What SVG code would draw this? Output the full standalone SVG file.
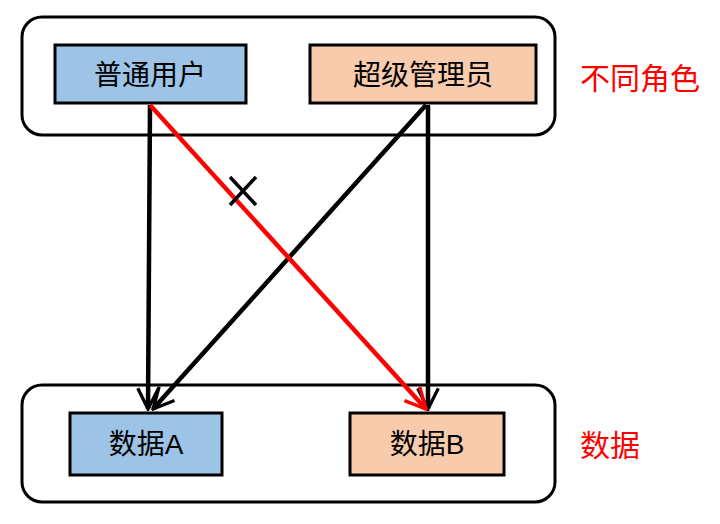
<svg xmlns="http://www.w3.org/2000/svg" width="720" height="524" viewBox="0 0 720 524">
<style>
.c{fill:#fff;stroke:#000;stroke-width:3}
.b{stroke:#000;stroke-width:3}
.blue{fill:#9dc3e6}.or{fill:#f8cbad}
text{font-family:"Liberation Sans","Noto Sans CJK SC",sans-serif;font-size:28px;text-anchor:middle;dominant-baseline:central}
.r{fill:#ff0000;text-anchor:start;font-size:30px}
.l{fill:none;stroke-width:4.5}
</style>
<defs>
<marker id="ak" viewBox="0 0 12 12" refX="11" refY="6" markerWidth="5.5" markerHeight="5.5" orient="auto" markerUnits="strokeWidth"><path d="M1,1 L11,6 L1,11" fill="none" stroke="#000" stroke-width="1.6"/></marker>
<marker id="ar" viewBox="0 0 12 12" refX="11" refY="6" markerWidth="5.5" markerHeight="5.5" orient="auto" markerUnits="strokeWidth"><path d="M1,1 L11,6 L1,11" fill="none" stroke="#f00" stroke-width="1.6"/></marker>
</defs>
<g id="roles"><rect class="c" x="22" y="17" width="533" height="118" rx="20"/></g>
<g id="datas"><rect class="c" x="22" y="385" width="533" height="117" rx="20"/></g>
<g id="user"><rect class="b blue" x="55" y="45" width="191" height="58"/><text x="150" y="75">普通用户</text></g>
<g id="admin"><rect class="b or" x="310" y="45" width="226" height="58"/><text x="423" y="75">超级管理员</text></g>
<g id="dataA"><rect class="b blue" x="70" y="413" width="152" height="62"/><text x="146" y="444">数据A</text></g>
<g id="dataB"><rect class="b or" x="350" y="413" width="154" height="62"/><text x="427" y="444">数据B</text></g>
<text class="r" x="580" y="78">不同角色</text>
<text class="r" x="580" y="445">数据</text>
<g id="connectors">
<line class="l" stroke="#000" x1="150" y1="105" x2="148" y2="409" marker-end="url(#ak)"/>
<line class="l" stroke="#000" x1="426" y1="105" x2="153" y2="409" marker-end="url(#ak)"/>
<line class="l" stroke="#000" x1="428" y1="105" x2="428" y2="409" marker-end="url(#ak)"/>
<line class="l" stroke="#ff0000" x1="150" y1="105" x2="426" y2="409" marker-end="url(#ar)"/>
<path d="M230,177 L256,205 M256,177 L230,205" stroke="#000" stroke-width="3.5" fill="none"/>
</g>
</svg>
